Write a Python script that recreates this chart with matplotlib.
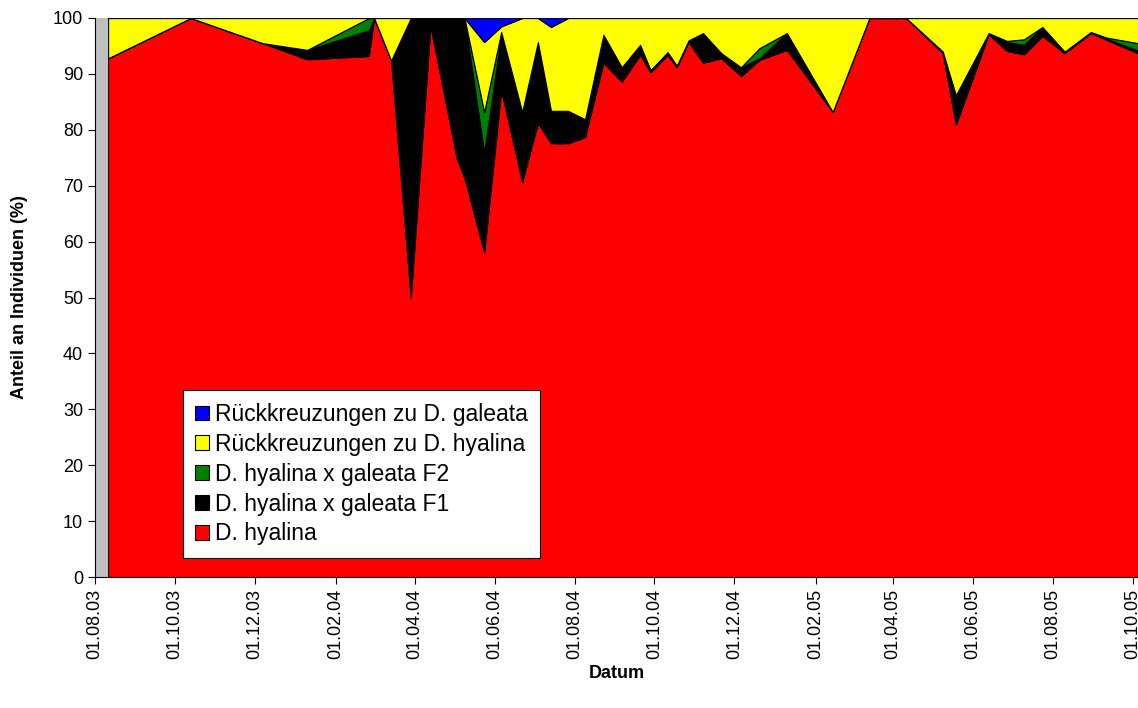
import matplotlib
matplotlib.use("Agg")
import matplotlib.pyplot as plt
import matplotlib.dates as mdates
import numpy as np
from datetime import datetime

plt.rcParams['font.family'] = ['Liberation Sans', 'DejaVu Sans']

dates = ["2003-08-11","2003-10-13","2003-12-07","2004-01-10","2004-02-26","2004-03-01",
         "2004-03-14","2004-03-29","2004-04-13","2004-05-03","2004-05-09","2004-05-24",
         "2004-06-06","2004-06-22","2004-07-04","2004-07-14","2004-07-27","2004-08-09",
         "2004-08-23","2004-09-06","2004-09-20","2004-09-28","2004-10-11","2004-10-18",
         "2004-10-27","2004-11-07","2004-11-21","2004-12-06","2004-12-20","2005-01-10",
         "2005-02-14","2005-03-14","2005-04-11","2005-05-09","2005-05-19","2005-06-13",
         "2005-06-27","2005-07-10","2005-07-24","2005-08-10","2005-08-30","2005-09-11",
         "2005-10-05"]
hyalina = [92.8,100,95.5,92.6,93.2,100,92.4,50,98.6,75,71.4,58.1,87.1,70.7,81.2,77.6,77.6,78.7,
           92,88.6,93.4,90.3,93.4,91.2,95.7,92,92.8,89.6,92.5,94.3,83.2,100,100,93.7,80.9,97.1,
           94.1,93.5,96.8,93.7,97.3,96.1,93.7]
f1 = [0,0,0,1.7,4.6,0,0,50,1.4,25,28.6,17.9,9.9,12.5,14.5,5.8,5.8,3.2,5,2.6,1.8,0.4,0.5,0.3,
      0.3,5.3,0.9,1.6,0.3,3,0,0,0,0.3,5.3,0.2,1.6,1.7,1.6,0.3,0.2,0.2,0.5]
f2 = [0,0,0,0,2.2,0,0,0,0,0,0,7.2,0.5,0,0,0,0,0,0,0,0,0,0,0,0,0,0,0,1.8,0,0,0,0,0,0,0,
      0.2,1.0,0,0,0,0.2,1.3]
back_galeata = [0,0,0,0,0,0,0,0,0,0,0,4.3,1.5,0,0,1.6,0,0,0,0,0,0,0,0,0,0,0,0,0,0,0,0,0,0,0,0,
                0,0,0,0,0,0,0]
back_hyalina = [100 - a - b - c - d for a, b, c, d in zip(hyalina, f1, f2, back_galeata)]

x = [datetime.strptime(d, "%Y-%m-%d") for d in dates]

fig = plt.figure(figsize=(11.38, 7.08), dpi=100)
ax = fig.add_axes([95/1138, (708-577)/708, (1138-95)/1138, (577-18)/708])
ax.set_facecolor('#C0C0C0')

labels = ["D. hyalina", "D. hyalina x galeata F1", "D. hyalina x galeata F2",
          "Rückkreuzungen zu D. hyalina", "Rückkreuzungen zu D. galeata"]
colors = ['#FF0000', '#000000', '#008000', '#FFFF00', '#0000FF']
polys = ax.stackplot(x, hyalina, f1, f2, back_hyalina, back_galeata, colors=colors,
                     labels=labels, edgecolor='black', linewidth=0.8)

ax.set_xlim(datetime(2003, 8, 1), datetime(2005, 10, 5))
ax.set_ylim(0, 100)
ax.set_yticks(np.arange(0, 101, 10))
ax.xaxis.set_major_locator(mdates.MonthLocator(bymonth=[2, 4, 6, 8, 10, 12], bymonthday=1))
ax.xaxis.set_major_formatter(mdates.DateFormatter('%d.%m.%y'))
for lab in ax.get_xticklabels():
    lab.set_rotation(90)
ax.tick_params(labelsize=13, direction='out', length=5)
for s in ['top', 'right']:
    ax.spines[s].set_visible(False)
ax.set_xlabel("Datum", fontsize=13, fontweight='bold', labelpad=4)
ax.set_ylabel("Anteil an Individuen (%)", fontsize=13, fontweight='bold', labelpad=18)

handles = polys[::-1]
leg = ax.legend(handles, labels[::-1], loc='lower left', bbox_to_anchor=(0.084, 0.034),
                fontsize=16.5, frameon=True, fancybox=False, edgecolor='black',
                facecolor='white', framealpha=1,
                handlelength=0.6, handleheight=0.6, handletextpad=0.25, borderpad=0.55,
                labelspacing=0.3, borderaxespad=0)
leg.get_frame().set_linewidth(0.8)
fig.savefig("out.png", dpi=100)
